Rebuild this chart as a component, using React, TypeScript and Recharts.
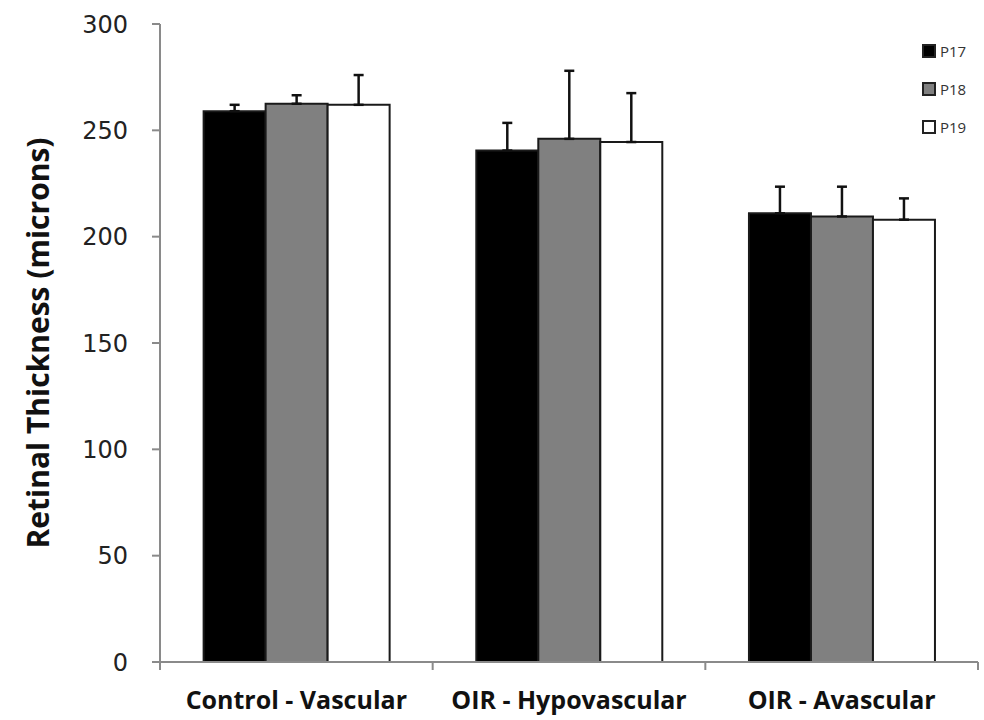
import { BarChart, Bar, XAxis, YAxis, ErrorBar, Legend } from 'recharts'

const categories = ['Control - Vascular', 'OIR - Hypovascular', 'OIR - Avascular']
const seriesNames = ['P17', 'P18', 'P19']
const seriesColors = ['#000000', '#808080', '#ffffff']
const p17 = [259, 240.5, 211]
const p18 = [262.5, 246, 209.5]
const p19 = [262, 244.5, 208]
const p17Err = [3, 13, 12.5]
const p18Err = [4, 32, 14]
const p19Err = [14, 23, 10]
const yTicks = [0, 50, 100, 150, 200, 250, 300]

const values = [p17, p18, p19]
const errors = [p17Err, p18Err, p19Err]

const data = categories.map((name, i) => {
  const row: Record<string, string | number | number[]> = { name }
  seriesNames.forEach((s, k) => {
    row[s] = values[k][i]
    row[s + 'err'] = [0, errors[k][i]]
  })
  return row
})

const axisGrey = '#8a8a8a'

function CategoryTick(props: any) {
  const { x, y, payload, index, width, visibleTicksCount } = props
  const band = width / visibleTicksCount
  return (
    <g>
      <line x1={x - band / 2} y1={y} x2={x - band / 2} y2={y + 8} stroke={axisGrey} strokeWidth={2} />
      {index === visibleTicksCount - 1 && (
        <line x1={x + band / 2} y1={y} x2={x + band / 2} y2={y + 8} stroke={axisGrey} strokeWidth={2} />
      )}
      <text x={x} y={y + 47} textAnchor="middle" fontFamily="Open Sans" fontWeight="bold" fontSize={25} fill="#111">
        {payload.value}
      </text>
    </g>
  )
}

function LegendBox() {
  return (
    <div style={{ fontFamily: 'Open Sans', fontSize: 15, color: '#333' }}>
      {seriesNames.map((s, i) => (
        <div key={s} style={{ display: 'flex', alignItems: 'center', height: 38 }}>
          <span
            style={{
              display: 'inline-block',
              width: 10,
              height: 10,
              background: seriesColors[i],
              border: '2px solid #222',
              marginRight: 4,
            }}
          />
          {s}
        </div>
      ))}
    </div>
  )
}

export default function App() {
  return (
    <div style={{ position: 'absolute', left: 0, top: 0, width: 984, height: 720, background: '#fff' }}>
      <BarChart
        width={984}
        height={720}
        data={data}
        margin={{ top: 24, right: 6, bottom: 8, left: 0 }}
        barCategoryGap="16%"
        barGap={0}
      >
        <XAxis
          dataKey="name"
          height={50}
          tickLine={false}
          tickSize={0}
          tickMargin={0}
          axisLine={{ stroke: axisGrey, strokeWidth: 2 }}
          tick={<CategoryTick />}
          interval={0}
        />
        <YAxis
          width={160}
          domain={[0, 300]}
          ticks={yTicks}
          tickSize={8}
          tickMargin={24}
          axisLine={{ stroke: axisGrey, strokeWidth: 2 }}
          tickLine={{ stroke: axisGrey, strokeWidth: 2 }}
          tick={{ fontFamily: 'DejaVu Sans', fontSize: 24, fill: '#222' }}
          label={{
            content: (p: any) => {
              const vb = p.viewBox
              const cx = vb.x + 37
              const cy = vb.y + vb.height / 2
              return (
                <text
                  x={cx}
                  y={cy}
                  transform={`rotate(-90 ${cx} ${cy})`}
                  textAnchor="middle"
                  dominantBaseline="central"
                  fontFamily="Open Sans"
                  fontWeight="bold"
                  fontSize={30}
                  fill="#111"
                >
                  Retinal Thickness (microns)
                </text>
              )
            },
          }}
        />
        <Legend
          layout="vertical"
          align="center"
          verticalAlign="middle"
          wrapperStyle={{ left: 922, top: 32, width: 60 }}
          content={() => <LegendBox />}
        />
        {seriesNames.map((s, i) => (
          <Bar key={s} dataKey={s} fill={seriesColors[i]} stroke="#1a1a1a" strokeWidth={2} isAnimationActive={false}>
            <ErrorBar dataKey={s + 'err'} width={5} stroke="#111" strokeWidth={2.5} direction="y" />
          </Bar>
        ))}
      </BarChart>
    </div>
  )
}
